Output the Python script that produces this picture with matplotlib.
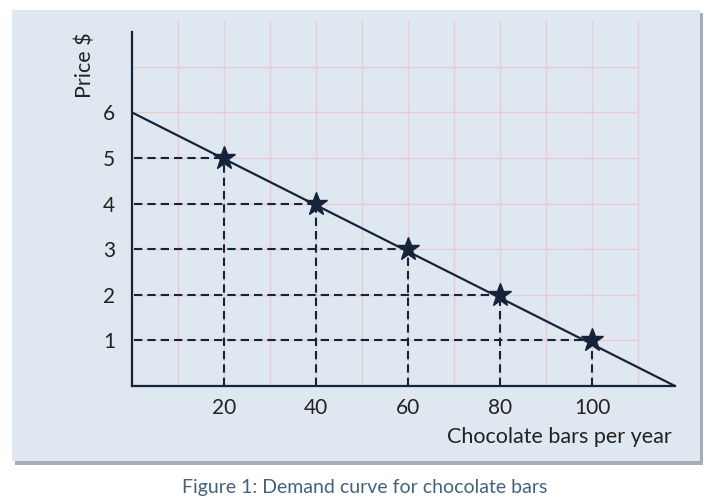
import matplotlib
matplotlib.use("Agg")
import matplotlib.pyplot as plt
from matplotlib.patches import Rectangle

# demand schedule points (starred)
quantity = [20, 40, 60, 80, 100]
price = [5, 4, 3, 2, 1]

# demand line end points
line_q = [0, 118]
line_p = [6, 0]

x_ticks = [20, 40, 60, 80, 100]
y_ticks = [1, 2, 3, 4, 5, 6]
grid_x = [10, 20, 30, 40, 50, 60, 70, 80, 90, 100, 110]
grid_y = [1, 2, 3, 4, 5, 6, 7]

navy = "#16243a"
panel = "#dfe7f1"
pink = "#e8cad2"

plt.rcParams["font.family"] = ["Lato", "DejaVu Sans"]

W, H = 720, 504
fig = plt.figure(figsize=(7.2, 5.04), dpi=100)
fig.patch.set_facecolor("white")


def px(x0, y0, x1, y1):
    # pixel box (top-left origin) -> figure fraction rect
    return [x0 / W, 1 - y1 / H, (x1 - x0) / W, (y1 - y0) / H]


# panel with soft shadow
r = px(15, 13, 703, 465)
fig.patches.append(Rectangle((r[0], r[1]), r[2], r[3], transform=fig.transFigure,
                             facecolor="#a9adb2", edgecolor="none", zorder=-2))
r = px(12, 10, 700, 461)
fig.patches.append(Rectangle((r[0], r[1]), r[2], r[3], transform=fig.transFigure,
                             facecolor=panel, edgecolor="none", zorder=-1))

ax = fig.add_axes(px(132, 19, 675, 386))
ax.set_zorder(2)
ax.set_facecolor("none")
ax.set_xlim(0, 118)
ax.set_ylim(0, 8.05)

# pink grid
ax.vlines(grid_x, 0, 8, colors=pink, lw=1.0, zorder=1)
ax.hlines(grid_y, 0, 110, colors=pink, lw=1.0, zorder=1)

# dashed guides
for q, p in zip(quantity, price):
    ax.plot([0.5, q], [p, p], color=navy, lw=1.5, ls=(0, (4, 2.4)), zorder=2)
    ax.plot([q, q], [0, p], color=navy, lw=1.5, ls=(0, (4, 2.4)), zorder=2)

ax.plot(line_q, line_p, color=navy, lw=1.6, zorder=3, solid_capstyle="butt")
ax.plot(quantity, price, ls="none", marker="*", ms=17, color=navy, zorder=4)

for s in ["top", "right"]:
    ax.spines[s].set_visible(False)
ax.spines["left"].set_bounds(0, 7.76)
ax.spines["left"].set_color(navy)
ax.spines["bottom"].set_color(navy)
ax.spines["left"].set_linewidth(1.6)
ax.spines["bottom"].set_linewidth(1.6)

ax.set_xticks(x_ticks)
ax.set_yticks(y_ticks)
ax.tick_params(length=0, labelsize=15, labelcolor="#222222")
ax.tick_params(axis="x", pad=9)
ax.tick_params(axis="y", pad=12)

fig.text(85 / W, 1 - 65 / H, "Price $", rotation=90, ha="center", va="center",
         fontsize=15.5, color="#222222")
fig.text(672 / W, 1 - 437 / H, "Chocolate bars per year", ha="right", va="center",
         fontsize=15.5, color="#222222")
fig.text(365 / W, 1 - 487 / H, "Figure 1: Demand curve for chocolate bars",
         ha="center", va="center", fontsize=14, color="#44617e")

fig.savefig("out.png", dpi=100)
